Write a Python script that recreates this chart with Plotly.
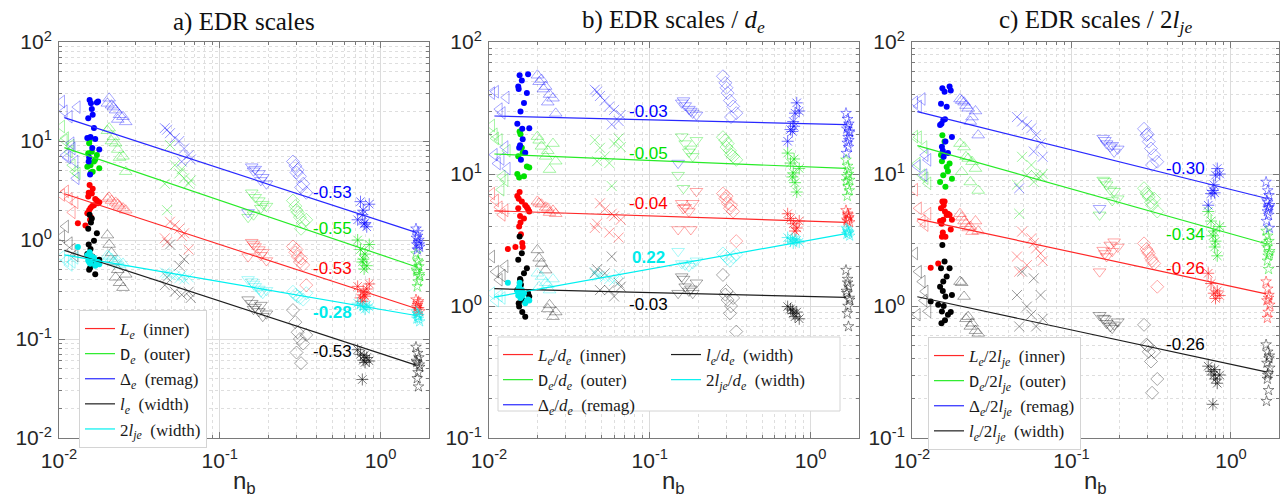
import plotly.graph_objects as go
import math

# ---------------- data ----------------
# nb positions of the events, per marker group (shared by all quantities)
TL_X = [0.0104, 0.0110, 0.0116, 0.0121, 0.0126, 0.0108, 0.0119, 0.0130, 0.0113, 0.0128]
DOT_X = [0.0155, 0.0160, 0.0152, 0.0172, 0.0165, 0.0157, 0.0150, 0.0178, 0.0162,
         0.0154, 0.0168, 0.0158, 0.0153, 0.0175, 0.0161, 0.0156, 0.0131, 0.0146]
UT_X = [0.0200, 0.0212, 0.0225, 0.0238, 0.0250, 0.0205, 0.0232, 0.0260, 0.0218]
XC_X = [0.0455, 0.0490, 0.0525, 0.0560, 0.0600, 0.0640, 0.0470, 0.0580, 0.0660]
DT_X = [0.150, 0.158, 0.166, 0.175, 0.185, 0.195, 0.162, 0.180]
DM_X = [0.285, 0.295, 0.305, 0.315, 0.330, 0.345, 0.300, 0.320]
AS_X = [0.72, 0.75, 0.78, 0.80, 0.82, 0.85, 0.77, 0.79]
ST_X = [1.66, 1.70, 1.73, 1.68, 1.75, 1.71, 1.69, 1.72, 1.67, 1.74, 1.70, 1.73]

# panel a) EDR scales
A_BLU = {"tl": [25, 7.2, 17.6, 8.4, 6.2, 20, 9.5, 22, 6.8, 4.2],
         "dot": [26, 21, 17, 24.5, 13.5, 11, 10.7, 8.2, 18.4, 6.8, 10.5, 24, 6.2, 25, 8.5, 4.6],
         "ut": [24, 23, 20.5, 18.4, 17.6, 27, 16.5, 15.6, 22],
         "xc": [13.5, 12, 10.7, 10, 8.4, 7.2, 13, 6.2, 6.5],
         "dt": [1.9, 5.5, 5.2, 4.7, 4.3, 3.7, 5.0, 4.0],
         "dm": [6.2, 5.6, 5.1, 4.4, 3.7, 3.0, 4.8, 3.4],
         "as": [1.6, 2.44, 2.0, 1.5, 1.36, 2.3, 1.8, 1.45],
         "st": [1.3, 1.1, 1.0, 0.9, 0.85, 1.2, 0.8, 0.95, 1.05, 0.9]}
A_GRN = {"tl": [14, 10.7, 7.8, 5.7, 4.9, 10.2, 9.0, 4.7],
         "dot": [10.3, 7.8, 7.5, 7.2, 6.2, 5.7, 5.5, 5.3, 4.9, 9.5, 6.5, 4.8],
         "ut": [12.7, 10, 9.5, 6.8, 7, 13.5, 8.2, 4.9, 11],
         "xc": [3.7, 9.1, 5.7, 4.7, 4.2, 3.7, 2.0, 5.2, 4.0],
         "dt": [1.7, 3.0, 2.7, 2.5, 2.3, 2.2, 1.8, 2.1],
         "dm": [2.5, 2.2, 1.9, 1.7, 1.5, 1.6, 2.0, 1.3],
         "as": [1.0, 0.8, 0.64, 0.72, 0.55, 0.9, 0.6, 0.51],
         "st": [0.73, 0.62, 0.54, 0.48, 0.43, 0.38, 0.34, 0.6, 0.5, 0.45]}
A_RED = {"tl": [2.85, 3.1, 2.6, 1.9, 2.4],
         "dot": [3.6, 2.95, 2.75, 2.5, 2.25, 2.1, 1.86, 2.4, 3.3, 2.0, 2.6, 1.7, 3.0, 2.35, 2.2, 1.6, 1.48, 1.4],
         "ut": [2.6, 2.5, 2.4, 2.2, 2.1, 2.7, 2.3, 2.0],
         "xc": [1.04, 1.53, 1.41, 1.3, 1.17, 0.8, 0.95, 1.1],
         "dt": [0.68, 0.95, 0.86, 0.8, 0.75, 0.62, 0.9, 0.7],
         "dm": [0.86, 0.75, 0.68, 0.6, 0.56, 0.35, 0.8, 0.65],
         "as": [0.34, 0.26, 0.3, 0.27, 0.32, 0.36, 0.24, 0.28],
         "st": [0.25, 0.22, 0.2, 0.21, 0.19, 0.23, 0.2, 0.24]}
A_BLK = {"tl": [1.08, 1.37, 0.93, 0.8, 0.7],
         "dot": [1.8, 1.65, 1.3, 1.17, 0.98, 0.81, 0.72, 0.63, 0.56, 0.5, 0.45, 1.5, 0.9, 0.6, 0.68, 0.52],
         "ut": [1.12, 0.74, 0.42, 0.37, 0.33, 0.9, 0.5, 0.45, 0.6],
         "xc": [0.35, 0.9, 0.3, 0.55, 0.64, 0.3, 0.42, 0.28, 0.26],
         "dt": [0.25, 0.23, 0.21, 0.19, 0.17, 0.18, 0.2, 0.22],
         "dm": [0.196, 0.148, 0.117, 0.1, 0.09, 0.11, 0.073, 0.057],
         "as": [0.078, 0.07, 0.061, 0.058, 0.065, 0.06, 0.039, 0.068],
         "st": [0.083, 0.072, 0.065, 0.058, 0.052, 0.046, 0.04, 0.033, 0.06, 0.055]}
A_CYN = {"tl": [0.68, 0.62, 0.56, 0.6, 0.66],
         "dot": [0.75, 0.68, 0.62, 0.6, 0.66, 0.58, 0.7, 0.57, 0.64, 0.6, 0.55, 0.62, 0.7, 0.6, 0.66, 0.58, 0.85],
         "ut": [0.7, 0.65, 0.6, 0.56, 0.58, 0.68, 0.62],
         "xc": [0.47, 0.45, 0.43, 0.41, 0.40, 0.42, 0.46, 0.44],
         "dt": [0.4, 0.38, 0.34, 0.32, 0.29, 0.31, 0.36, 0.3],
         "dm": [0.3, 0.28, 0.27, 0.26, 0.25, 0.29],
         "as": [0.23, 0.22, 0.21, 0.2, 0.22, 0.21],
         "st": [0.19, 0.18, 0.17, 0.16, 0.15, 0.17, 0.18, 0.16]}

# panel b) EDR scales / d_e
B_BLU = {"tl": [41, 42, 31, 29, 16, 14, 13, 11, 12, 38],
         "dot": [56, 51, 46, 41, 34.5, 29.8, 24, 22.2, 18.3, 15.8, 14.5, 12.8, 44, 57, 22, 16.5],
         "ut": [56, 52, 46, 40, 37.5, 50, 35, 28.8, 44],
         "xc": [43.5, 39, 36, 32.5, 30.6, 25.2, 42, 23.7, 28],
         "dt": [12.1, 34.6, 33, 31, 29, 28, 36, 30],
         "dm": [55, 49, 41, 36, 32.5, 28.9, 45, 27],
         "as": [17.7, 21.7, 25, 28.9, 34.6, 30, 21, 23],
         "st": [28.9, 26, 24, 22, 20.6, 19, 17.2, 16, 14.4, 21, 23, 18]}
B_GRN = {"tl": [23.3, 18.6, 18.1, 9.6, 9.0, 20, 7.6, 15],
         "dot": [21, 15.8, 13.6, 11.4, 9.6, 20, 10, 11.2, 14.5, 9.4],
         "ut": [19.2, 16.2, 13.6, 10.8, 17, 18, 15, 12.5],
         "xc": [18.1, 15.8, 13.6, 12.1, 17, 18.6, 12.5, 8.1, 16],
         "dt": [9.8, 19.2, 17, 14.7, 13.6, 18, 7.8, 15.5],
         "dm": [19, 18, 17, 15, 13.6, 12.8, 16, 14],
         "as": [14.4, 12.1, 10.2, 8.6, 7.3, 11, 9.5, 13],
         "st": [12.8, 11.5, 10.8, 9.6, 9.0, 8.1, 6.8, 10, 8.8, 7.5]}
B_RED = {"tl": [7.1, 6.3, 5.6, 4.9, 5.3],
         "dot": [7.3, 6.2, 5.5, 5.6, 4.6, 4.3, 6.8, 5.2, 2.8, 4.0, 5.8, 3.5, 6.5, 5.4, 3.0, 4.8, 2.7, 2.8],
         "ut": [6.2, 5.9, 5.6, 5.1, 5.3, 6.0, 5.5, 5.0],
         "xc": [3.9, 6.0, 5.4, 3.6, 4.8, 3.3, 4.2, 5.0, 4.5],
         "dt": [3.8, 6.0, 5.6, 5.2, 6.0, 7.4, 5.5, 3.8],
         "dm": [7.1, 6.5, 6.0, 5.5, 5.2, 3.1, 6.8, 5.8],
         "as": [5.0, 4.6, 4.2, 3.7, 3.9, 4.4],
         "st": [5.3, 5.0, 4.7, 4.5, 4.3, 4.9, 4.4, 4.6]}
B_BLK = {"tl": [2.37, 1.82, 1.58, 1.7, 2.0],
         "dot": [3.36, 2.51, 2.24, 1.93, 1.77, 1.57, 1.32, 1.18, 1.11, 0.99, 0.83, 1.45, 1.05, 1.25, 0.9, 1.6],
         "ut": [2.66, 2.1, 1.87, 1.02, 0.83, 2.3, 0.95, 0.9],
         "xc": [1.77, 1.32, 1.77, 1.32, 1.18, 1.5, 1.9, 2.37, 1.4],
         "dt": [1.25, 1.67, 1.4, 1.3, 1.25, 1.5, 1.6, 1.35],
         "dm": [1.72, 1.22, 1.11, 0.88, 1.15, 0.64, 1.3, 1.0],
         "as": [0.99, 0.95, 0.88, 0.83, 0.9, 0.8, 0.93],
         "st": [1.87, 1.6, 1.4, 1.25, 1.11, 1.0, 0.88, 0.7, 1.3, 1.15, 1.5]}
B_CYN = {"tl": [1.25, 1.1, 1.2, 1.15],
         "dot": [1.5, 1.32, 1.2, 1.1, 1.25, 1.15, 1.3, 1.1, 1.2, 1.4, 1.05, 1.18, 1.35, 1.12, 1.22, 1.28, 1.5],
         "ut": [1.77, 1.67, 1.5, 1.32, 1.6, 1.4, 1.45],
         "xc": [1.8, 1.7, 1.65, 1.6, 1.55, 1.75, 1.68],
         "dt": [2.6, 2.1, 2.05, 2.0, 2.1, 2.2],
         "dm": [2.5, 2.4, 2.3, 2.2, 2.35, 2.45],
         "as": [3.3, 3.1, 3.0, 3.2, 3.15, 3.05, 3.25],
         "st": [3.9, 3.7, 3.6, 3.5, 3.4, 3.65, 3.8, 3.55]}

# panel c) EDR scales / 2l_je
C_BLU = {"tl": [35, 32.5, 37, 13.9, 12.8, 11.5, 9.8],
         "dot": [44.6, 42, 34, 46, 32.3, 25.7, 23.5, 19.1, 17.6, 16.1, 14.4, 13.5, 24, 43, 26, 15],
         "ut": [37, 35, 31.5, 27, 30, 36, 25, 19.7, 33],
         "xc": [27, 25, 23.5, 22.2, 19.7, 17.1, 7.8, 14.8, 13.5],
         "dt": [5.5, 18.7, 17, 16.1, 14.7, 15.5, 18, 16.5],
         "dm": [22, 19.7, 17.6, 15.6, 13.9, 12.4, 20, 11.7],
         "as": [5.8, 7.1, 8.3, 9.8, 11, 10, 7.5, 7.2],
         "st": [8.7, 7.5, 6.9, 6.3, 5.8, 5.5, 5.2, 4.9, 4.4, 3.9, 6.1, 5.6]}
C_GRN = {"tl": [19.2, 19.0, 9.8, 9.3, 8.5, 12, 16],
         "dot": [19.7, 17.6, 13.9, 12.0, 11.3, 9.8, 8.7, 9.2, 8.0, 12.5, 10.5],
         "ut": [17, 16, 13.1, 12.4, 11, 10.4, 8.7, 7.5, 13.5],
         "xc": [8.3, 13.5, 9.8, 11.7, 9.8, 9.5, 5.0, 8.7, 10],
         "dt": [4.9, 9.0, 8.3, 7.6, 7.4, 6.5, 8.8, 6.3],
         "dm": [7.8, 7.2, 6.7, 6.1, 6.5, 5.2, 7.0, 5.8],
         "as": [5.2, 4.4, 3.7, 3.1, 2.4, 4.0, 3.4, 2.8],
         "st": [3.7, 3.4, 3.1, 2.8, 2.6, 2.4, 2.2, 1.9, 3.0, 2.5]}
C_RED = {"tl": [7.6, 5.5, 4.4, 4.1, 5.0],
         "dot": [6.2, 6.2, 5.5, 4.9, 4.9, 4.5, 4.4, 4.5, 3.35, 3.35, 5.0, 5.8, 4.2, 3.8, 5.2, 3.6, 1.95, 2.1],
         "ut": [5.0, 4.4, 3.9, 3.66, 4.4, 4.7, 4.0, 3.7, 4.2],
         "xc": [2.37, 3.66, 2.04, 3.26, 2.73, 2.5, 1.82, 3.0, 2.2],
         "dt": [1.82, 2.65, 2.37, 2.9, 3.07, 2.8, 2.5, 2.6],
         "dm": [2.98, 2.7, 2.5, 2.3, 2.1, 1.4, 2.6, 2.2],
         "as": [1.77, 1.48, 1.25, 1.14, 1.3, 1.2],
         "st": [1.53, 1.35, 1.21, 1.1, 1.02, 0.9, 0.81, 1.15]}
C_BLK = {"tl": [2.5, 1.82, 1.53, 1.29, 0.91, 0.86, 1.1],
         "dot": [2.9, 2.17, 1.93, 1.93, 1.67, 1.53, 1.4, 1.21, 1.18, 0.91, 0.86, 1.0, 0.74, 0.9, 0.78, 1.3, 1.08, 1.02],
         "ut": [1.53, 1.18, 0.83, 0.74, 0.65, 1.5, 0.7, 0.62, 0.8],
         "xc": [1.21, 1.82, 0.99, 0.86, 0.7, 1.21, 0.7, 1.62, 0.8],
         "dt": [0.85, 0.81, 0.74, 0.7, 0.72, 0.76, 0.8, 0.68],
         "dm": [0.72, 0.51, 0.45, 0.38, 0.45, 0.28, 0.5, 0.22],
         "as": [0.35, 0.32, 0.3, 0.28, 0.26, 0.3, 0.18, 0.33],
         "st": [0.51, 0.45, 0.4, 0.37, 0.34, 0.31, 0.28, 0.23, 0.19, 0.42, 0.3]}

# power-law fits y = A * nb^k  (A, k, label position x, label position y)
A_FITS = {"red": (0.266, -0.53, 0.50, 0.52), "grn": (0.71, -0.55, 0.50, 1.32),
          "blu": (1.56, -0.53, 0.50, 3.0), "blk": (0.0713, -0.53, 0.50, 0.074),
          "cyn": (0.199, -0.28, 0.50, 0.187)}
B_FITS = {"red": (4.39, -0.04, 0.0986, 5.93), "grn": (11.3, -0.05, 0.0986, 14.2),
          "blu": (24.0, -0.03, 0.0986, 29.5), "blk": (1.18, -0.03, 0.0986, 1.035),
          "cyn": (3.16, 0.22, 0.0986, 2.35)}
C_FITS = {"red": (1.41, -0.26, 0.516, 1.94), "grn": (3.52, -0.34, 0.516, 3.5),
          "blu": (7.63, -0.30, 0.516, 11.1), "blk": (0.362, -0.26, 0.516, 0.51)}
FIT_X = [0.0108, 1.66]

A_NAMES = {"red": "<i>L<sub>e</sub></i>", "grn": "<span style='font-family:Liberation Mono'>D</span><sub><i>e</i></sub>",
           "blu": "Δ<sub><i>e</i></sub>", "blk": "<i>l<sub>e</sub></i>", "cyn": "2<i>l<sub>je</sub></i>"}
SUFFIX = {"red": "(inner)", "grn": "(outer)", "blu": "(remag)", "blk": "(width)", "cyn": "(width)"}

# ---------------- styling ----------------
RGB = {"red": (255, 0, 0), "grn": (0, 225, 0), "blu": (0, 0, 255), "blk": (0, 0, 0), "cyn": (0, 235, 235)}
LINE_RGB = {"red": (255, 40, 40), "grn": (40, 235, 40), "blu": (40, 40, 255), "blk": (30, 30, 30), "cyn": (0, 240, 240)}
TXT_RGB = {"red": "rgb(255,0,0)", "grn": "rgb(0,225,0)", "blu": "rgb(0,0,255)", "blk": "rgb(0,0,0)", "cyn": "rgb(0,235,235)"}
GROUPS = [("tl", TL_X, "triangle-left-open", 11, 0.35),
          ("ut", UT_X, "triangle-up-open", 11, 0.35),
          ("xc", XC_X, "x-thin-open", 10, 0.4),
          ("dt", DT_X, "triangle-down-open", 11, 0.35),
          ("dm", DM_X, "diamond-open", 10, 0.35),
          ("as", AS_X, "asterisk-open", 10, 0.55),
          ("st", ST_X, "star-open", 8, 0.45),
          ("dot", DOT_X, "circle", 6, 1.0)]

DOM_Y = [1 - 438 / 502, 1 - 42 / 502]
DOMS_X = [[59 / 1281, 429 / 1281], [489 / 1281, 859 / 1281], [912 / 1281, 1279 / 1281]]

fig = go.Figure()

panels = [
    ("x", "y", {"red": A_RED, "grn": A_GRN, "blu": A_BLU, "blk": A_BLK, "cyn": A_CYN}, A_FITS),
    ("x2", "y2", {"red": B_RED, "grn": B_GRN, "blu": B_BLU, "blk": B_BLK, "cyn": B_CYN}, B_FITS),
    ("x3", "y3", {"red": C_RED, "grn": C_GRN, "blu": C_BLU, "blk": C_BLK}, C_FITS),
]

for xa, ya, series, fits in panels:
    for key, grp_x, sym, size, alpha in GROUPS:
        for q, ser in series.items():
            ys = ser.get(key, [])
            if not ys:
                continue
            r, g, b = RGB[q]
            col = f"rgba({r},{g},{b},{alpha})"
            xs = grp_x[:len(ys)]
            if key == "dot":
                marker = dict(symbol=sym, size=size, color=f"rgb({r},{g},{b})", line=dict(width=0))
            else:
                marker = dict(symbol=sym, size=size, color=col, line=dict(color=col, width=1))
            fig.add_trace(go.Scatter(x=xs, y=ys, mode="markers", marker=marker,
                                     xaxis=xa, yaxis=ya, showlegend=False, hoverinfo="skip"))

legend_ids = {0: {"red": "legend", "grn": "legend", "blu": "legend", "blk": "legend", "cyn": "legend"},
              1: {"red": "legend2", "grn": "legend2", "blu": "legend2", "blk": "legend3", "cyn": "legend3"},
              2: {"red": "legend4", "grn": "legend4", "blu": "legend4", "blk": "legend4"}}
denoms = ["", "/<i>d<sub>e</sub></i>", "/2<i>l<sub>je</sub></i>"]
NB = "\u00a0\u00a0"

for pi, (xa, ya, series, fits) in enumerate(panels):
    for q in ["red", "grn", "blu", "blk", "cyn"]:
        if q not in fits:
            continue
        A, k, lx, ly = fits[q]
        xs = FIT_X
        ys = [A * v ** k for v in xs]
        r, g, b = LINE_RGB[q]
        name = A_NAMES[q] + denoms[pi] + NB + SUFFIX[q]
        fig.add_trace(go.Scatter(x=xs, y=ys, mode="lines", line=dict(color=f"rgb({r},{g},{b})", width=1.2),
                                 xaxis=xa, yaxis=ya, name=name, legend=legend_ids[pi][q],
                                 showlegend=True, hoverinfo="skip"))
        txt = f"{k:.2f}"
        if q == "cyn":
            txt = f"<b>{txt}</b>"
        fig.add_annotation(x=math.log10(lx), y=math.log10(ly), xref=xa, yref=ya, text=txt, showarrow=False,
                           xanchor="center", yanchor="middle",
                           font=dict(family="Liberation Sans, Arial", size=17, color=TXT_RGB[q]))

# axes
XMINOR = [m * 10 ** e for e in (-2, -1) for m in range(2, 10)] + [2]
YMINOR_A = [m * 10 ** e for e in (-2, -1, 0, 1) for m in range(2, 10)]
YMINOR_B = [m * 10 ** e for e in (-1, 0, 1) for m in range(2, 10)]
AXC = "#7a7a7a"


def axis(domain, rng, tickvals, ticktext, minor, anchor, standoff):
    return dict(type="log", domain=domain, range=rng, anchor=anchor, automargin=False,
                showline=True, linecolor=AXC, linewidth=1, mirror="ticks",
                ticks="inside", ticklen=6, tickcolor=AXC, tickwidth=1,
                tickvals=tickvals, ticktext=ticktext, ticklabelstandoff=standoff,
                showgrid=True, gridcolor="#dcdcdc", gridwidth=1, zeroline=False,
                tickfont=dict(family="Liberation Sans, Arial", size=21, color="#262626"),
                minor=dict(tickmode="array", tickvals=minor, ticks="inside", ticklen=3, tickcolor=AXC,
                           showgrid=True, gridcolor="#dedede", griddash="dot", gridwidth=1))


XT = [0.01, 0.1, 1]
XTT = ["10<sup>-2</sup>", "10<sup>-1</sup>", "10<sup>0</sup>"]
YTA = [0.01, 0.1, 1, 10, 100]
YTTA = ["10<sup>-2</sup>", "10<sup>-1</sup>", "10<sup>0</sup>", "10<sup>1</sup>", "10<sup>2</sup>"]
YTB = [0.1, 1, 10, 100]
YTTB = ["10<sup>-1</sup>", "10<sup>0</sup>", "10<sup>1</sup>", "10<sup>2</sup>"]
XR = [-2, math.log10(2.0)]

layout = dict(
    width=1281, height=502, margin=dict(l=0, r=0, t=0, b=0, autoexpand=False),
    paper_bgcolor="white", plot_bgcolor="white",
    xaxis=axis(DOMS_X[0], XR, XT, XTT, XMINOR, "y", 4),
    yaxis=axis(DOM_Y, [-2, 2], YTA, YTTA, YMINOR_A, "x", 2),
    xaxis2=axis(DOMS_X[1], XR, XT, XTT, XMINOR, "y2", 4),
    yaxis2=axis(DOM_Y, [-1, 2], YTB, YTTB, YMINOR_B, "x2", 2),
    xaxis3=axis(DOMS_X[2], XR, XT, XTT, XMINOR, "y3", 4),
    yaxis3=axis(DOM_Y, [-1, 2], YTB, YTTB, YMINOR_B, "x3", 2),
)
fig.update_layout(**layout)

LEG_FONT = dict(family="Liberation Serif, Times New Roman", size=17, color="#1a1a1a")
fig.update_layout(
    legend=dict(x=79 / 1281, y=1 - 310 / 502, xanchor="left", yanchor="top", bgcolor="white",
                bordercolor="#d4d4d4", borderwidth=1, font=LEG_FONT, tracegroupgap=0),
    legend2=dict(x=498 / 1281, y=1 - 337 / 502, xanchor="left", yanchor="top", bgcolor="rgba(0,0,0,0)",
                 borderwidth=0, font=LEG_FONT),
    legend3=dict(x=666 / 1281, y=1 - 337 / 502, xanchor="left", yanchor="top", bgcolor="rgba(0,0,0,0)",
                 borderwidth=0, font=LEG_FONT),
    legend4=dict(x=928 / 1281, y=1 - 337 / 502, xanchor="left", yanchor="top", bgcolor="white",
                 bordercolor="#d4d4d4", borderwidth=1, font=LEG_FONT),
)
fig.add_shape(type="rect", xref="paper", yref="paper", x0=498 / 1281, x1=840 / 1281,
              y0=1 - 411 / 502, y1=1 - 337 / 502, fillcolor="white", line=dict(color="#d4d4d4", width=1),
              layer="above")

TITLES = ["a) EDR scales", "b) EDR scales / <i>d<sub>e</sub></i>", "c) EDR scales / 2<i>l<sub>je</sub></i>"]
for t, d in zip(TITLES, DOMS_X):
    fig.add_annotation(x=(d[0] + d[1]) / 2, y=1 - 22 / 502, xref="paper", yref="paper", text=t,
                       xanchor="center", yanchor="middle", showarrow=False,
                       font=dict(family="Liberation Serif, Times New Roman", size=25, color="#111"))
    fig.add_annotation(x=(d[0] + d[1]) / 2, y=1 - 482 / 502, xref="paper", yref="paper", text="n<sub>b</sub>",
                       xanchor="center", yanchor="middle", showarrow=False,
                       font=dict(family="Liberation Sans, Arial", size=24, color="#262626"))

fig.write_html("out.html")
